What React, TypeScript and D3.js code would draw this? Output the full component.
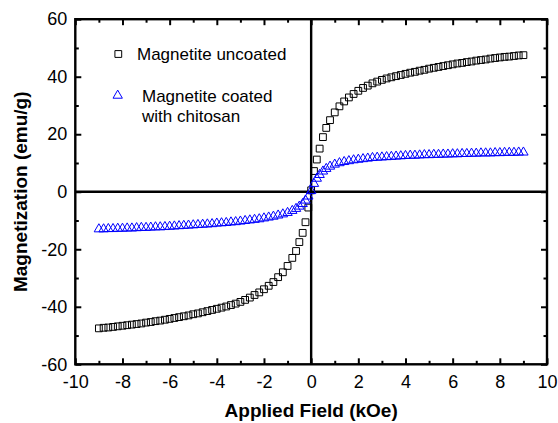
import { useEffect, useRef } from 'react';
import * as d3 from 'd3';

// applied field (kOe) for each measured point
const fieldKOe = [
  -9, -8.8, -8.6, -8.4, -8.2, -8, -7.8, -7.6, -7.4, -7.2, -7, -6.8, -6.6, -6.4, -6.2, -6, -5.8, -5.6, -5.4, -5.2,
  -5, -4.8, -4.6, -4.4, -4.2, -4, -3.8, -3.6, -3.4, -3.2, -3, -2.8, -2.6, -2.4, -2.2, -2, -1.8, -1.6, -1.4, -1.2,
  -1, -0.8, -0.64, -0.5, -0.36, -0.24, -0.12, 0, 0.12, 0.24, 0.36, 0.5, 0.64, 0.8, 1,
  1.2, 1.4, 1.6, 1.8, 2, 2.2, 2.4, 2.6, 2.8, 3, 3.2, 3.4, 3.6, 3.8, 4, 4.2, 4.4, 4.6, 4.8, 5,
  5.2, 5.4, 5.6, 5.8, 6, 6.2, 6.4, 6.6, 6.8, 7, 7.2, 7.4, 7.6, 7.8, 8, 8.2, 8.4, 8.6, 8.8, 9,
];

// magnetization (emu/g), uncoated magnetite
const uncoated = [
  -47.5, -47.3, -47.2, -47.0, -46.8, -46.6, -46.4, -46.2, -46.0, -45.8, -45.5, -45.3, -45.0, -44.8, -44.5, -44.2, -43.9, -43.6, -43.3, -43.0,
  -42.6, -42.3, -41.9, -41.5, -41.1, -40.7, -40.3, -39.9, -39.4, -38.9, -38.3, -37.6, -36.8, -35.9, -35.0, -33.9, -32.7, -31.4, -29.7, -28.0,
  -25.8, -23.0, -20.6, -17.5, -14.3, -10.6, -5.5, 0.5, 7.2, 11.2, 15.0, 19.0, 22.2, 24.9, 27.6,
  29.7, 31.4, 32.8, 34.0, 35.1, 36.1, 36.9, 37.7, 38.3, 38.9, 39.4, 39.8, 40.2, 40.6, 41.0, 41.4, 41.7, 42.1, 42.4, 42.8,
  43.1, 43.4, 43.7, 44.0, 44.3, 44.6, 44.8, 45.1, 45.3, 45.6, 45.8, 46.0, 46.3, 46.5, 46.7, 46.9, 47.0, 47.2, 47.4, 47.5,
];

// magnetization (emu/g), magnetite coated with chitosan
const coated = [
  -13.0, -13.0, -12.9, -12.9, -12.8, -12.8, -12.7, -12.7, -12.6, -12.5, -12.5, -12.4, -12.3, -12.3, -12.2, -12.1, -12.0, -11.9, -11.8, -11.7,
  -11.6, -11.5, -11.4, -11.3, -11.2, -11.0, -10.9, -10.8, -10.6, -10.5, -10.3, -10.1, -9.9, -9.7, -9.5, -9.2, -8.9, -8.6, -8.2, -7.8,
  -7.3, -6.6, -5.9, -5.1, -4.2, -3.0, -1.6, 0.3, 2.8, 4.6, 5.9, 7.1, 8.0, 8.8, 9.5,
  10.0, 10.4, 10.7, 11.0, 11.2, 11.4, 11.6, 11.8, 11.9, 12.0, 12.1, 12.2, 12.3, 12.4, 12.5, 12.6, 12.6, 12.7, 12.8, 12.8,
  12.9, 12.9, 13.0, 13.0, 13.1, 13.1, 13.2, 13.2, 13.3, 13.3, 13.4, 13.4, 13.4, 13.5, 13.5, 13.6, 13.6, 13.6, 13.7, 13.7,
];

const xMajor = [-10, -8, -6, -4, -2, 0, 2, 4, 6, 8, 10];
const xMinor = [-9, -7, -5, -3, -1, 1, 3, 5, 7, 9];
const yMajor = [-60, -40, -20, 0, 20, 40, 60];
const yMinor = [-50, -30, -10, 10, 30, 50];

const legendLabels = ['Magnetite uncoated', 'Magnetite coated', 'with chitosan'];

export default function App() {
  const svgRef = useRef<SVGSVGElement>(null);

  useEffect(() => {
    const svg = d3.select(svgRef.current);
    svg.selectAll('*').remove();

    const font = 'Liberation Sans, Arial, Helvetica, sans-serif';
    const left = 75.3, right = 547, top = 19.2, bottom = 364.3;

    const x = d3.scaleLinear().domain([-10, 10]).range([left, right]);
    const y = d3.scaleLinear().domain([-60, 60]).range([bottom, top]);

    // plain hyphen minus, like the original
    const fmt = (d: any) => String(d);

    // axes with inward ticks
    const addAxis = (axis: any, tr: string, labels: boolean) => {
      const g = svg.append('g').attr('transform', tr).call(axis);
      g.select('.domain').remove();
      g.selectAll('line').attr('stroke', '#000').attr('stroke-width', 2);
      g.selectAll('text')
        .attr('font-family', font)
        .attr('font-size', 18)
        .attr('fill', '#000');
      if (!labels) g.selectAll('text').remove();
      return g;
    };

    addAxis(d3.axisBottom(x).tickValues(xMajor).tickSize(-6).tickPadding(11).tickFormat(fmt), `translate(0,${bottom})`, true);
    addAxis(d3.axisBottom(x).tickValues(xMinor).tickSize(-3.5), `translate(0,${bottom})`, false);
    addAxis(d3.axisTop(x).tickValues(xMajor).tickSize(-6), `translate(0,${top})`, false);
    addAxis(d3.axisTop(x).tickValues(xMinor).tickSize(-3.5), `translate(0,${top})`, false);

    addAxis(d3.axisLeft(y).tickValues(yMajor).tickSize(-6).tickPadding(8).tickFormat(fmt), `translate(${left},0)`, true);
    addAxis(d3.axisLeft(y).tickValues(yMinor).tickSize(-3.5), `translate(${left},0)`, false);
    addAxis(d3.axisRight(y).tickValues(yMajor).tickSize(-6), `translate(${right},0)`, false);
    addAxis(d3.axisRight(y).tickValues(yMinor).tickSize(-3.5), `translate(${right},0)`, false);

    // frame
    svg.append('rect')
      .attr('x', left).attr('y', top)
      .attr('width', right - left).attr('height', bottom - top)
      .attr('fill', 'none').attr('stroke', '#000').attr('stroke-width', 2.4);

    // zero lines
    svg.append('line')
      .attr('x1', x(-10)).attr('x2', x(10)).attr('y1', y(0)).attr('y2', y(0))
      .attr('stroke', '#000').attr('stroke-width', 2.4);
    svg.append('line')
      .attr('x1', x(0)).attr('x2', x(0)).attr('y1', y(-60)).attr('y2', y(60))
      .attr('stroke', '#000').attr('stroke-width', 2.4);

    const square = d3.symbol().type(d3.symbolSquare).size(46)();
    const triangle = d3.symbol().type(d3.symbolTriangle).size(38)();

    // uncoated series
    svg.append('g')
      .selectAll('path')
      .data(fieldKOe.map((f, i) => [f, uncoated[i]]))
      .enter().append('path')
      .attr('d', square)
      .attr('transform', d => `translate(${x(d[0])},${y(d[1])})`)
      .attr('fill', 'none')
      .attr('stroke', '#000')
      .attr('stroke-width', 1);

    // coated series
    svg.append('g')
      .selectAll('path')
      .data(fieldKOe.map((f, i) => [f, coated[i]]))
      .enter().append('path')
      .attr('d', triangle)
      .attr('transform', d => `translate(${x(d[0])},${y(d[1])})`)
      .attr('fill', 'none')
      .attr('stroke', '#0000ff')
      .attr('stroke-width', 1);

    // legend
    svg.append('path').attr('d', square).attr('transform', 'translate(118.3,54)')
      .attr('fill', 'none').attr('stroke', '#000').attr('stroke-width', 1);
    svg.append('path').attr('d', triangle).attr('transform', 'translate(117.7,95.5)')
      .attr('fill', 'none').attr('stroke', '#0000ff').attr('stroke-width', 1);

    const legendPos = [[137, 60], [142, 101.5], [142, 121.5]];
    legendLabels.forEach((t, i) => {
      svg.append('text')
        .attr('x', legendPos[i][0]).attr('y', legendPos[i][1])
        .attr('font-family', font).attr('font-size', 17)
        .attr('fill', '#000')
        .text(t);
    });

    // axis titles
    svg.append('text')
      .attr('x', (left + right) / 2).attr('y', 417)
      .attr('text-anchor', 'middle')
      .attr('font-family', font).attr('font-size', 19).attr('font-weight', 'bold')
      .text('Applied Field (kOe)');

    svg.append('text')
      .attr('transform', `translate(27,${(top + bottom) / 2}) rotate(-90)`)
      .attr('text-anchor', 'middle')
      .attr('font-family', font).attr('font-size', 19).attr('font-weight', 'bold')
      .text('Magnetization (emu/g)');
  }, []);

  return (
    <div style={{ position: 'absolute', left: 0, top: 0 }}>
      <svg ref={svgRef} width={558} height={423} style={{ display: 'block', background: '#fff' }} />
    </div>
  );
}
